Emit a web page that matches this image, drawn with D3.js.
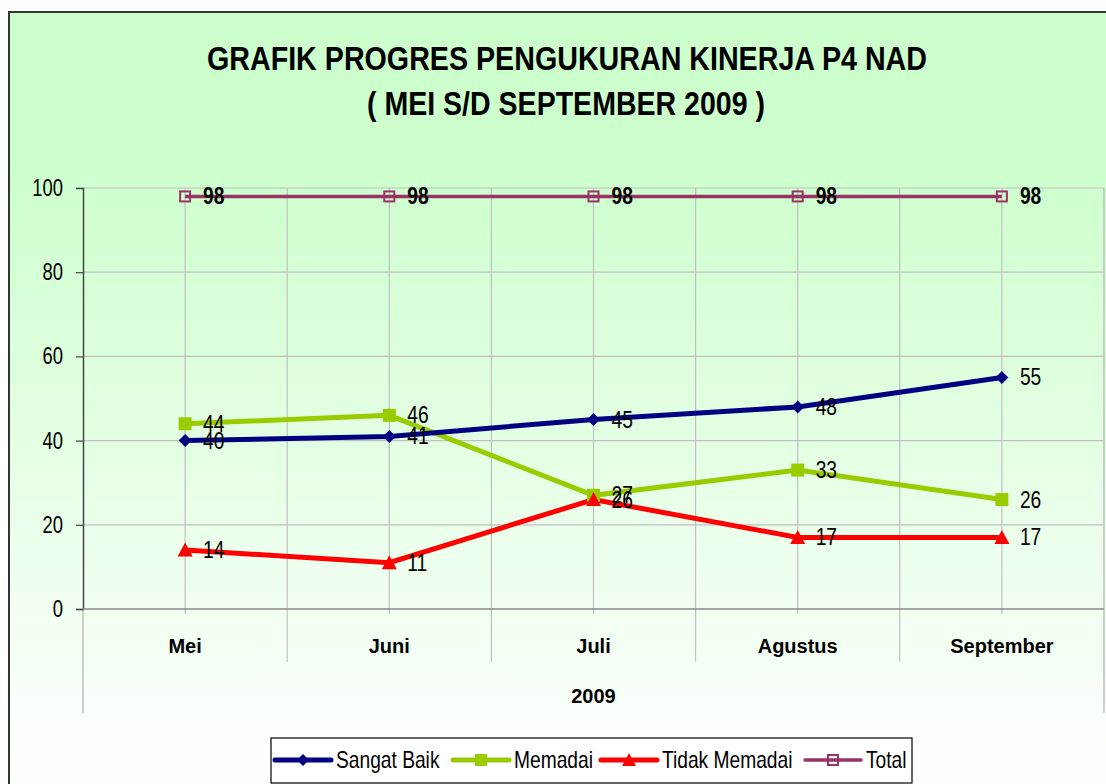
<!DOCTYPE html>
<html>
<head>
<meta charset="utf-8">
<script src="https://cdn.jsdelivr.net/npm/d3@7"></script>
<style>
  body { margin: 0; background: #fff; }
  svg { display: block; }
</style>
</head>
<body>
<svg id="chart"></svg>
<script>
// Chart size
const width = 1106, height = 784;

// Data
const months = ["Mei", "Juni", "Juli", "Agustus", "September"];
const yearLabel = "2009";
const sangatBaik = [40, 41, 45, 48, 55];
const memadai = [44, 46, 27, 33, 26];
const tidakMemadai = [14, 11, 26, 17, 17];
const total = [98, 98, 98, 98, 98];
const yTicks = [0, 20, 40, 60, 80, 100];

const series = [
  { name: "Sangat Baik", values: sangatBaik, color: "#000080", marker: "diamond", width: 5 },
  { name: "Memadai", values: memadai, color: "#99cc00", marker: "square", width: 5 },
  { name: "Tidak Memadai", values: tidakMemadai, color: "#ff0000", marker: "triangle", width: 5 },
  { name: "Total", values: total, color: "#993366", marker: "hollow", width: 3.5, bold: true }
];

const FONT = "Liberation Sans, Arial, sans-serif";
const NARROW = 0.8; // horizontal squeeze to mimic Arial Narrow

const svg = d3.select("#chart")
  .attr("width", width)
  .attr("height", height);

// Text squeezed horizontally (no narrow font installed)
function narrowText(parent, x0, y0, str, size, anchor, weight) {
  return parent.append("text")
    .attr("transform", `translate(${x0},${y0}) scale(${NARROW},1)`)
    .attr("text-anchor", anchor || "start")
    .attr("font-family", FONT)
    .attr("font-size", size)
    .attr("font-weight", weight || "normal")
    .attr("fill", "#000")
    .text(str);
}

// Background gradient
const defs = svg.append("defs");
const grad = defs.append("linearGradient")
  .attr("id", "bg").attr("x1", 0).attr("y1", 0).attr("x2", 0).attr("y2", 1);
grad.append("stop").attr("offset", "0%").attr("stop-color", "#ccffcc");
grad.append("stop").attr("offset", "18%").attr("stop-color", "#ccffcc");
grad.append("stop").attr("offset", "85%").attr("stop-color", "#f8fff8");
grad.append("stop").attr("offset", "100%").attr("stop-color", "#ffffff");

svg.append("rect")
  .attr("x", 9).attr("y", 12)
  .attr("width", width + 20).attr("height", height + 20)
  .attr("fill", "url(#bg)")
  .attr("stroke", "#333")
  .attr("stroke-width", 2);

// Title
svg.append("text")
  .attr("x", 567).attr("y", 70)
  .attr("text-anchor", "middle")
  .attr("font-family", FONT)
  .attr("font-size", 34).attr("font-weight", "bold")
  .attr("textLength", 720).attr("lengthAdjust", "spacingAndGlyphs")
  .text("GRAFIK PROGRES PENGUKURAN KINERJA P4 NAD");

svg.append("text")
  .attr("x", 566).attr("y", 115)
  .attr("text-anchor", "middle")
  .attr("font-family", FONT)
  .attr("font-size", 34).attr("font-weight", "bold")
  .attr("textLength", 398).attr("lengthAdjust", "spacingAndGlyphs")
  .text("( MEI S/D SEPTEMBER 2009 )");

// Scales
const x = d3.scaleBand().domain(months).range([83, 1104]);
const y = d3.scaleLinear().domain([0, 100]).range([609, 188]);
const cx = m => x(m) + x.bandwidth() / 2;

const grid = svg.append("g");

// Horizontal gridlines
grid.selectAll("line.h")
  .data(yTicks.filter(t => t > 0))
  .join("line")
  .attr("x1", 83).attr("x2", 1104)
  .attr("y1", d => y(d)).attr("y2", d => y(d))
  .attr("stroke", "#c0c0c0").attr("stroke-width", 1.2);

// Vertical gridlines at category centers and boundaries
grid.selectAll("line.vc")
  .data(months)
  .join("line")
  .attr("x1", d => cx(d)).attr("x2", d => cx(d))
  .attr("y1", y(100)).attr("y2", y(0) + 5)
  .attr("stroke", "#c0c0c0").attr("stroke-width", 1.2);

const bounds = months.slice(1).map(m => x(m));
grid.selectAll("line.vb")
  .data(bounds)
  .join("line")
  .attr("x1", d => d).attr("x2", d => d)
  .attr("y1", y(100)).attr("y2", 662)
  .attr("stroke", "#c0c0c0").attr("stroke-width", 1.2);

// Right border of plot
grid.append("line")
  .attr("x1", 1104).attr("x2", 1104).attr("y1", y(100)).attr("y2", 713)
  .attr("stroke", "#b0b0b0").attr("stroke-width", 1.2);

// Left axis extension below plot
grid.append("line")
  .attr("x1", 83).attr("x2", 83).attr("y1", y(0)).attr("y2", 713)
  .attr("stroke", "#b0b0b0").attr("stroke-width", 1.2);

// Y axis
const yAxis = svg.append("g")
  .attr("transform", "translate(83,0)")
  .call(d3.axisLeft(y).tickValues(yTicks).tickSize(7).tickFormat(""));
yAxis.select(".domain").attr("stroke", "#444").attr("stroke-width", 1.5);
yAxis.selectAll(".tick line").attr("stroke", "#444").attr("stroke-width", 1.2);

const yLabels = svg.append("g");
yTicks.forEach(t => narrowText(yLabels, 63, y(t) + 8, t, 23, "end"));

// X axis base line
svg.append("line")
  .attr("x1", 83).attr("x2", 1104).attr("y1", y(0)).attr("y2", y(0))
  .attr("stroke", "#888").attr("stroke-width", 1.5);

// Category labels
svg.append("g")
  .selectAll("text")
  .data(months)
  .join("text")
  .attr("x", d => cx(d)).attr("y", 653)
  .attr("text-anchor", "middle")
  .attr("font-family", FONT)
  .attr("font-size", 20).attr("font-weight", "bold")
  .text(d => d);

svg.append("text")
  .attr("x", cx("Juli")).attr("y", 703)
  .attr("text-anchor", "middle")
  .attr("font-family", FONT)
  .attr("font-size", 20).attr("font-weight", "bold")
  .text(yearLabel);

// Marker drawing
function drawMarker(g, type, color, size) {
  const s = size / 2;
  if (type === "diamond") {
    g.append("path").attr("d", `M0,${-s}L${s},0L0,${s}L${-s},0Z`).attr("fill", color);
  } else if (type === "square") {
    g.append("rect").attr("x", -s).attr("y", -s).attr("width", size).attr("height", size).attr("fill", color);
  } else if (type === "triangle") {
    g.append("path").attr("d", `M0,${-s - 1}L${s + 1},${s}L${-s - 1},${s}Z`).attr("fill", color);
  } else {
    g.append("rect").attr("x", -s + 1).attr("y", -s + 1).attr("width", size - 2).attr("height", size - 2)
      .attr("fill", "none").attr("stroke", color).attr("stroke-width", 2);
  }
}

const line = d3.line().x((d, i) => cx(months[i])).y(d => y(d));

// Draw series
series.slice().reverse().forEach(s => {
  svg.append("path")
    .datum(s.values)
    .attr("d", line)
    .attr("fill", "none")
    .attr("stroke", s.color)
    .attr("stroke-width", s.width);
});

series.forEach(s => {
  s.values.forEach((v, i) => {
    const g = svg.append("g").attr("transform", `translate(${cx(months[i])},${y(v)})`);
    drawMarker(g, s.marker, s.color, s.marker === "hollow" ? 12 : 13);
  });
});

// Data labels
series.forEach(s => {
  const g = svg.append("g");
  s.values.forEach((v, i) => {
    narrowText(g, cx(months[i]) + 18, y(v) + 8, v, 24, "start", s.bold ? "bold" : "normal");
  });
});

// Legend
const legend = svg.append("g");
legend.append("rect")
  .attr("x", 271).attr("y", 738).attr("width", 641).attr("height", 45)
  .attr("fill", "#fff").attr("stroke", "#000").attr("stroke-width", 1.2);

const legendX = [275, 453, 601, 805];
series.forEach((s, i) => {
  const x0 = legendX[i];
  const ly = 760;
  legend.append("line")
    .attr("x1", x0).attr("x2", x0 + 56).attr("y1", ly).attr("y2", ly)
    .attr("stroke", s.color).attr("stroke-width", s.width).attr("stroke-linecap", "round");
  const g = legend.append("g").attr("transform", `translate(${x0 + 28},${ly})`);
  drawMarker(g, s.marker, s.color, 12);
  narrowText(legend, x0 + 61, ly + 8, s.name, 24, "start");
});
</script>
</body>
</html>
